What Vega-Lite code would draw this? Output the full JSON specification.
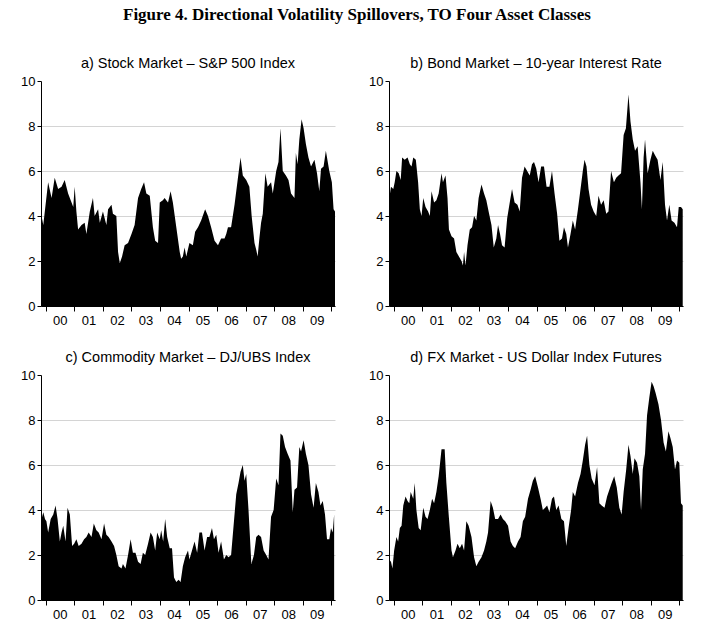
{
"$schema": "https://vega.github.io/schema/vega-lite/v6.json",
"padding": {"left": 20, "top": 5, "right": 5, "bottom": 2},
"background": "white",
"title": {"text": "Figure 4.  Directional Volatility Spillovers, TO Four Asset Classes", "font": "Liberation Serif", "fontSize": 17, "fontWeight": "bold", "color": "black", "anchor": "middle", "offset": 32},
"datasets": {
"a": [{"t":1999.85,"v":4.0},{"t":1999.91,"v":3.6},{"t":2000.08,"v":5.5},{"t":2000.20,"v":4.8},{"t":2000.31,"v":5.7},{"t":2000.43,"v":5.2},{"t":2000.55,"v":5.3},{"t":2000.66,"v":5.6},{"t":2000.78,"v":5.0},{"t":2000.90,"v":4.6},{"t":2000.96,"v":4.4},{"t":2001.01,"v":5.3},{"t":2001.07,"v":4.2},{"t":2001.13,"v":3.4},{"t":2001.25,"v":3.6},{"t":2001.36,"v":3.7},{"t":2001.42,"v":3.2},{"t":2001.54,"v":4.2},{"t":2001.65,"v":4.8},{"t":2001.71,"v":4.0},{"t":2001.83,"v":4.3},{"t":2001.89,"v":3.7},{"t":2002.00,"v":4.2},{"t":2002.12,"v":3.6},{"t":2002.18,"v":4.3},{"t":2002.30,"v":4.5},{"t":2002.35,"v":4.1},{"t":2002.47,"v":4.0},{"t":2002.53,"v":2.4},{"t":2002.59,"v":1.9},{"t":2002.67,"v":2.2},{"t":2002.76,"v":2.7},{"t":2002.88,"v":2.8},{"t":2003.00,"v":3.2},{"t":2003.11,"v":3.6},{"t":2003.23,"v":4.8},{"t":2003.34,"v":5.2},{"t":2003.44,"v":5.5},{"t":2003.52,"v":5.0},{"t":2003.64,"v":4.9},{"t":2003.75,"v":3.5},{"t":2003.83,"v":2.9},{"t":2003.93,"v":2.8},{"t":2003.99,"v":4.6},{"t":2004.10,"v":4.7},{"t":2004.16,"v":4.8},{"t":2004.28,"v":4.6},{"t":2004.37,"v":5.1},{"t":2004.45,"v":4.6},{"t":2004.57,"v":3.5},{"t":2004.69,"v":2.4},{"t":2004.74,"v":2.1},{"t":2004.80,"v":2.2},{"t":2004.86,"v":2.6},{"t":2004.92,"v":2.2},{"t":2005.03,"v":2.8},{"t":2005.15,"v":2.7},{"t":2005.23,"v":3.3},{"t":2005.33,"v":3.5},{"t":2005.44,"v":3.8},{"t":2005.58,"v":4.3},{"t":2005.68,"v":4.0},{"t":2005.79,"v":3.5},{"t":2005.91,"v":2.9},{"t":2006.03,"v":2.7},{"t":2006.14,"v":3.0},{"t":2006.26,"v":3.0},{"t":2006.32,"v":3.2},{"t":2006.38,"v":3.5},{"t":2006.49,"v":3.5},{"t":2006.61,"v":4.5},{"t":2006.72,"v":5.6},{"t":2006.82,"v":6.6},{"t":2006.90,"v":5.8},{"t":2007.02,"v":5.6},{"t":2007.13,"v":5.3},{"t":2007.21,"v":4.0},{"t":2007.31,"v":2.8},{"t":2007.37,"v":2.5},{"t":2007.42,"v":2.2},{"t":2007.48,"v":3.0},{"t":2007.54,"v":3.7},{"t":2007.60,"v":4.1},{"t":2007.69,"v":5.9},{"t":2007.77,"v":5.3},{"t":2007.89,"v":5.5},{"t":2007.95,"v":5.0},{"t":2008.07,"v":6.0},{"t":2008.15,"v":6.4},{"t":2008.22,"v":7.9},{"t":2008.30,"v":6.0},{"t":2008.41,"v":5.8},{"t":2008.50,"v":5.6},{"t":2008.59,"v":5.0},{"t":2008.71,"v":4.8},{"t":2008.76,"v":6.8},{"t":2008.82,"v":6.3},{"t":2008.88,"v":7.4},{"t":2008.96,"v":8.3},{"t":2009.03,"v":7.9},{"t":2009.11,"v":7.2},{"t":2009.20,"v":6.6},{"t":2009.29,"v":6.2},{"t":2009.41,"v":6.5},{"t":2009.50,"v":5.9},{"t":2009.58,"v":5.1},{"t":2009.64,"v":6.1},{"t":2009.73,"v":6.2},{"t":2009.81,"v":6.9},{"t":2009.93,"v":6.0},{"t":2010.02,"v":5.5},{"t":2010.08,"v":4.3},{"t":2010.13,"v":4.2}],
"b": [{"t":1999.83,"v":4.7},{"t":1999.90,"v":5.3},{"t":1999.98,"v":5.2},{"t":2000.03,"v":5.5},{"t":2000.09,"v":6.0},{"t":2000.17,"v":5.9},{"t":2000.24,"v":5.6},{"t":2000.29,"v":6.6},{"t":2000.38,"v":6.5},{"t":2000.48,"v":6.6},{"t":2000.56,"v":6.3},{"t":2000.62,"v":6.2},{"t":2000.68,"v":6.6},{"t":2000.77,"v":6.5},{"t":2000.85,"v":5.5},{"t":2000.91,"v":4.3},{"t":2000.97,"v":4.0},{"t":2001.03,"v":4.8},{"t":2001.11,"v":4.4},{"t":2001.20,"v":4.2},{"t":2001.26,"v":4.0},{"t":2001.32,"v":5.1},{"t":2001.41,"v":4.6},{"t":2001.49,"v":4.7},{"t":2001.57,"v":5.0},{"t":2001.67,"v":5.9},{"t":2001.72,"v":5.5},{"t":2001.81,"v":5.8},{"t":2001.88,"v":4.8},{"t":2001.93,"v":3.4},{"t":2002.02,"v":3.1},{"t":2002.11,"v":3.0},{"t":2002.19,"v":2.4},{"t":2002.28,"v":2.2},{"t":2002.37,"v":2.0},{"t":2002.42,"v":1.8},{"t":2002.46,"v":2.4},{"t":2002.51,"v":1.8},{"t":2002.58,"v":2.7},{"t":2002.66,"v":3.4},{"t":2002.74,"v":3.5},{"t":2002.81,"v":4.0},{"t":2002.89,"v":3.8},{"t":2002.97,"v":4.8},{"t":2003.07,"v":5.4},{"t":2003.16,"v":5.0},{"t":2003.24,"v":4.7},{"t":2003.32,"v":4.2},{"t":2003.42,"v":3.6},{"t":2003.50,"v":2.6},{"t":2003.59,"v":3.0},{"t":2003.65,"v":3.6},{"t":2003.72,"v":3.2},{"t":2003.79,"v":2.7},{"t":2003.88,"v":2.6},{"t":2003.97,"v":3.9},{"t":2004.06,"v":4.6},{"t":2004.14,"v":5.2},{"t":2004.23,"v":4.6},{"t":2004.33,"v":4.5},{"t":2004.41,"v":4.2},{"t":2004.49,"v":5.7},{"t":2004.58,"v":6.2},{"t":2004.67,"v":6.0},{"t":2004.76,"v":5.8},{"t":2004.84,"v":6.3},{"t":2004.91,"v":6.4},{"t":2004.99,"v":6.1},{"t":2005.07,"v":5.5},{"t":2005.16,"v":6.2},{"t":2005.26,"v":6.2},{"t":2005.35,"v":5.3},{"t":2005.45,"v":5.3},{"t":2005.54,"v":6.0},{"t":2005.63,"v":5.0},{"t":2005.72,"v":4.1},{"t":2005.80,"v":2.9},{"t":2005.89,"v":3.0},{"t":2005.96,"v":3.5},{"t":2006.04,"v":3.2},{"t":2006.10,"v":2.6},{"t":2006.19,"v":3.2},{"t":2006.27,"v":3.8},{"t":2006.35,"v":3.4},{"t":2006.45,"v":4.3},{"t":2006.54,"v":5.2},{"t":2006.62,"v":6.0},{"t":2006.68,"v":6.5},{"t":2006.75,"v":6.2},{"t":2006.82,"v":5.2},{"t":2006.91,"v":4.5},{"t":2007.00,"v":4.2},{"t":2007.09,"v":4.0},{"t":2007.17,"v":4.9},{"t":2007.26,"v":4.5},{"t":2007.35,"v":4.7},{"t":2007.44,"v":4.1},{"t":2007.52,"v":4.2},{"t":2007.61,"v":6.0},{"t":2007.71,"v":5.5},{"t":2007.79,"v":5.7},{"t":2007.87,"v":5.8},{"t":2007.96,"v":5.9},{"t":2008.05,"v":7.6},{"t":2008.13,"v":7.9},{"t":2008.22,"v":9.4},{"t":2008.29,"v":8.2},{"t":2008.37,"v":7.4},{"t":2008.45,"v":6.9},{"t":2008.54,"v":7.1},{"t":2008.64,"v":5.5},{"t":2008.69,"v":4.3},{"t":2008.75,"v":6.6},{"t":2008.80,"v":7.4},{"t":2008.89,"v":5.9},{"t":2008.99,"v":6.5},{"t":2009.07,"v":6.9},{"t":2009.15,"v":6.7},{"t":2009.24,"v":6.5},{"t":2009.34,"v":5.6},{"t":2009.42,"v":6.4},{"t":2009.50,"v":4.5},{"t":2009.57,"v":3.8},{"t":2009.65,"v":4.5},{"t":2009.73,"v":3.8},{"t":2009.83,"v":3.7},{"t":2009.92,"v":3.5},{"t":2009.98,"v":4.4},{"t":2010.06,"v":4.4},{"t":2010.12,"v":4.3}],
"c": [{"t":1999.85,"v":3.6},{"t":1999.91,"v":3.9},{"t":1999.97,"v":3.6},{"t":2000.02,"v":3.5},{"t":2000.08,"v":3.0},{"t":2000.17,"v":3.6},{"t":2000.26,"v":3.8},{"t":2000.34,"v":4.2},{"t":2000.41,"v":3.6},{"t":2000.49,"v":2.6},{"t":2000.55,"v":3.0},{"t":2000.61,"v":3.3},{"t":2000.69,"v":2.6},{"t":2000.76,"v":4.1},{"t":2000.84,"v":3.8},{"t":2000.92,"v":2.4},{"t":2000.99,"v":2.5},{"t":2001.07,"v":2.7},{"t":2001.15,"v":2.4},{"t":2001.25,"v":2.5},{"t":2001.34,"v":2.7},{"t":2001.42,"v":2.8},{"t":2001.50,"v":3.0},{"t":2001.60,"v":2.8},{"t":2001.68,"v":3.4},{"t":2001.77,"v":3.1},{"t":2001.85,"v":3.0},{"t":2001.95,"v":2.7},{"t":2002.04,"v":3.4},{"t":2002.12,"v":2.9},{"t":2002.20,"v":2.8},{"t":2002.30,"v":2.6},{"t":2002.39,"v":2.4},{"t":2002.47,"v":2.0},{"t":2002.55,"v":1.5},{"t":2002.65,"v":1.4},{"t":2002.70,"v":1.6},{"t":2002.79,"v":1.4},{"t":2002.88,"v":2.0},{"t":2002.97,"v":2.7},{"t":2003.05,"v":2.1},{"t":2003.14,"v":2.1},{"t":2003.23,"v":1.7},{"t":2003.32,"v":1.6},{"t":2003.40,"v":2.1},{"t":2003.48,"v":2.0},{"t":2003.58,"v":2.5},{"t":2003.67,"v":3.0},{"t":2003.75,"v":2.8},{"t":2003.83,"v":2.2},{"t":2003.90,"v":3.0},{"t":2003.99,"v":2.7},{"t":2004.04,"v":3.1},{"t":2004.11,"v":2.6},{"t":2004.18,"v":3.6},{"t":2004.25,"v":2.8},{"t":2004.34,"v":2.3},{"t":2004.42,"v":2.3},{"t":2004.49,"v":1.0},{"t":2004.57,"v":0.8},{"t":2004.65,"v":0.9},{"t":2004.72,"v":0.8},{"t":2004.80,"v":1.5},{"t":2004.88,"v":1.9},{"t":2004.98,"v":2.2},{"t":2005.03,"v":1.8},{"t":2005.12,"v":2.2},{"t":2005.21,"v":2.6},{"t":2005.30,"v":2.1},{"t":2005.38,"v":3.0},{"t":2005.47,"v":3.0},{"t":2005.56,"v":2.2},{"t":2005.65,"v":2.8},{"t":2005.73,"v":2.8},{"t":2005.82,"v":3.2},{"t":2005.89,"v":2.7},{"t":2005.97,"v":2.9},{"t":2006.05,"v":2.1},{"t":2006.14,"v":2.6},{"t":2006.24,"v":1.8},{"t":2006.32,"v":2.0},{"t":2006.40,"v":1.9},{"t":2006.49,"v":2.0},{"t":2006.59,"v":3.5},{"t":2006.67,"v":4.7},{"t":2006.75,"v":5.2},{"t":2006.82,"v":5.7},{"t":2006.90,"v":6.0},{"t":2006.96,"v":5.3},{"t":2007.02,"v":5.6},{"t":2007.10,"v":4.0},{"t":2007.20,"v":1.6},{"t":2007.29,"v":2.0},{"t":2007.37,"v":2.8},{"t":2007.45,"v":2.9},{"t":2007.54,"v":2.8},{"t":2007.63,"v":2.2},{"t":2007.72,"v":2.0},{"t":2007.80,"v":1.8},{"t":2007.89,"v":3.7},{"t":2007.98,"v":4.0},{"t":2008.07,"v":5.4},{"t":2008.15,"v":5.1},{"t":2008.22,"v":7.4},{"t":2008.30,"v":7.3},{"t":2008.38,"v":6.8},{"t":2008.47,"v":6.5},{"t":2008.57,"v":6.2},{"t":2008.65,"v":3.9},{"t":2008.71,"v":4.9},{"t":2008.80,"v":5.0},{"t":2008.88,"v":6.8},{"t":2008.94,"v":6.6},{"t":2009.03,"v":7.1},{"t":2009.11,"v":6.5},{"t":2009.20,"v":6.0},{"t":2009.29,"v":4.7},{"t":2009.38,"v":4.1},{"t":2009.46,"v":5.2},{"t":2009.55,"v":4.8},{"t":2009.62,"v":4.2},{"t":2009.70,"v":4.4},{"t":2009.78,"v":3.8},{"t":2009.85,"v":2.7},{"t":2009.93,"v":2.7},{"t":2009.99,"v":3.2},{"t":2010.05,"v":3.0},{"t":2010.10,"v":3.8}],
"d": [{"t":1999.83,"v":1.8},{"t":1999.90,"v":1.7},{"t":1999.95,"v":1.4},{"t":2000.01,"v":2.2},{"t":2000.09,"v":2.8},{"t":2000.15,"v":2.6},{"t":2000.21,"v":3.2},{"t":2000.27,"v":3.3},{"t":2000.33,"v":4.2},{"t":2000.41,"v":4.6},{"t":2000.48,"v":4.4},{"t":2000.54,"v":4.3},{"t":2000.59,"v":4.8},{"t":2000.68,"v":4.5},{"t":2000.73,"v":5.2},{"t":2000.79,"v":4.0},{"t":2000.87,"v":3.2},{"t":2000.94,"v":3.1},{"t":2001.03,"v":4.1},{"t":2001.11,"v":3.7},{"t":2001.18,"v":3.6},{"t":2001.26,"v":4.0},{"t":2001.34,"v":4.5},{"t":2001.41,"v":4.3},{"t":2001.49,"v":4.8},{"t":2001.57,"v":5.5},{"t":2001.67,"v":6.7},{"t":2001.72,"v":6.7},{"t":2001.78,"v":6.7},{"t":2001.84,"v":5.2},{"t":2001.92,"v":3.8},{"t":2002.02,"v":2.2},{"t":2002.07,"v":1.9},{"t":2002.16,"v":2.2},{"t":2002.23,"v":2.5},{"t":2002.31,"v":2.3},{"t":2002.39,"v":2.5},{"t":2002.46,"v":2.2},{"t":2002.54,"v":3.5},{"t":2002.62,"v":3.3},{"t":2002.72,"v":2.8},{"t":2002.81,"v":1.9},{"t":2002.89,"v":1.5},{"t":2002.97,"v":1.7},{"t":2003.07,"v":1.9},{"t":2003.16,"v":2.2},{"t":2003.24,"v":2.6},{"t":2003.30,"v":3.0},{"t":2003.39,"v":4.4},{"t":2003.47,"v":4.1},{"t":2003.55,"v":3.6},{"t":2003.65,"v":3.6},{"t":2003.74,"v":3.8},{"t":2003.82,"v":3.6},{"t":2003.90,"v":3.5},{"t":2004.00,"v":3.3},{"t":2004.09,"v":2.6},{"t":2004.17,"v":2.4},{"t":2004.25,"v":2.3},{"t":2004.35,"v":2.6},{"t":2004.44,"v":2.8},{"t":2004.52,"v":3.5},{"t":2004.60,"v":3.7},{"t":2004.70,"v":4.5},{"t":2004.79,"v":4.9},{"t":2004.87,"v":5.3},{"t":2004.95,"v":5.5},{"t":2005.05,"v":5.0},{"t":2005.14,"v":4.5},{"t":2005.22,"v":4.0},{"t":2005.30,"v":4.1},{"t":2005.37,"v":4.2},{"t":2005.45,"v":3.9},{"t":2005.54,"v":4.5},{"t":2005.61,"v":4.6},{"t":2005.69,"v":4.0},{"t":2005.77,"v":4.2},{"t":2005.87,"v":3.6},{"t":2005.96,"v":3.5},{"t":2006.04,"v":2.4},{"t":2006.12,"v":3.2},{"t":2006.21,"v":4.0},{"t":2006.27,"v":4.8},{"t":2006.35,"v":4.6},{"t":2006.45,"v":5.2},{"t":2006.54,"v":5.6},{"t":2006.62,"v":6.2},{"t":2006.70,"v":6.9},{"t":2006.77,"v":7.3},{"t":2006.85,"v":6.0},{"t":2006.93,"v":5.4},{"t":2007.03,"v":5.1},{"t":2007.12,"v":5.9},{"t":2007.20,"v":4.3},{"t":2007.28,"v":4.2},{"t":2007.38,"v":4.1},{"t":2007.47,"v":4.6},{"t":2007.55,"v":4.9},{"t":2007.63,"v":5.2},{"t":2007.72,"v":5.5},{"t":2007.81,"v":5.0},{"t":2007.90,"v":4.1},{"t":2007.98,"v":3.8},{"t":2008.05,"v":4.8},{"t":2008.14,"v":5.8},{"t":2008.22,"v":6.9},{"t":2008.29,"v":6.4},{"t":2008.37,"v":5.6},{"t":2008.43,"v":6.3},{"t":2008.52,"v":6.1},{"t":2008.60,"v":5.5},{"t":2008.66,"v":4.0},{"t":2008.72,"v":5.8},{"t":2008.80,"v":6.5},{"t":2008.87,"v":8.2},{"t":2008.95,"v":9.0},{"t":2009.03,"v":9.7},{"t":2009.10,"v":9.5},{"t":2009.17,"v":9.2},{"t":2009.27,"v":8.7},{"t":2009.36,"v":8.0},{"t":2009.45,"v":7.0},{"t":2009.53,"v":6.6},{"t":2009.62,"v":7.5},{"t":2009.69,"v":7.2},{"t":2009.77,"v":6.8},{"t":2009.85,"v":5.8},{"t":2009.92,"v":6.2},{"t":2010.00,"v":6.1},{"t":2010.06,"v":4.3},{"t":2010.12,"v":4.2}]
},
"vconcat": [
 {"hconcat": [
  {"width": 294, "height": 225, "data": {"name": "a"}, "title": "a) Stock Market – S&P 500 Index",
   "mark": {"type": "area", "color": "black", "interpolate": "linear"},
   "encoding": {
    "x": {"field": "t", "type": "quantitative", "scale": {"domain": [1999.83, 2010.13], "nice": false, "zero": false}, "axis": {"values": [2000,2001,2002,2003,2004,2005,2006,2007,2008,2009,2010], "labelExpr": "datum.value == 2010 ? '' : format(datum.value % 100, '02d')", "labelOffset": 14}},
    "y": {"field": "v", "type": "quantitative", "scale": {"domain": [0, 10], "nice": false}, "axis": {"values": [0,2,4,6,8,10], "grid": true, "gridOpacity": {"condition": {"test": "datum.value == 10", "value": 0}, "value": 1}}}
   }},
  {"width": 294, "height": 225, "data": {"name": "b"}, "title": "b) Bond Market – 10-year Interest Rate",
   "mark": {"type": "area", "color": "black", "interpolate": "linear"},
   "encoding": {
    "x": {"field": "t", "type": "quantitative", "scale": {"domain": [1999.83, 2010.13], "nice": false, "zero": false}, "axis": {"values": [2000,2001,2002,2003,2004,2005,2006,2007,2008,2009,2010], "labelExpr": "datum.value == 2010 ? '' : format(datum.value % 100, '02d')", "labelOffset": 14}},
    "y": {"field": "v", "type": "quantitative", "scale": {"domain": [0, 10], "nice": false}, "axis": {"values": [0,2,4,6,8,10], "grid": true, "gridOpacity": {"condition": {"test": "datum.value == 10", "value": 0}, "value": 1}}}
   }}
 ]},
 {"hconcat": [
  {"width": 294, "height": 225, "data": {"name": "c"}, "title": "c) Commodity Market – DJ/UBS Index",
   "mark": {"type": "area", "color": "black", "interpolate": "linear"},
   "encoding": {
    "x": {"field": "t", "type": "quantitative", "scale": {"domain": [1999.83, 2010.13], "nice": false, "zero": false}, "axis": {"values": [2000,2001,2002,2003,2004,2005,2006,2007,2008,2009,2010], "labelExpr": "datum.value == 2010 ? '' : format(datum.value % 100, '02d')", "labelOffset": 14}},
    "y": {"field": "v", "type": "quantitative", "scale": {"domain": [0, 10], "nice": false}, "axis": {"values": [0,2,4,6,8,10], "grid": true, "gridOpacity": {"condition": {"test": "datum.value == 10", "value": 0}, "value": 1}}}
   }},
  {"width": 294, "height": 225, "data": {"name": "d"}, "title": "d) FX Market - US Dollar Index Futures",
   "mark": {"type": "area", "color": "black", "interpolate": "linear"},
   "encoding": {
    "x": {"field": "t", "type": "quantitative", "scale": {"domain": [1999.83, 2010.13], "nice": false, "zero": false}, "axis": {"values": [2000,2001,2002,2003,2004,2005,2006,2007,2008,2009,2010], "labelExpr": "datum.value == 2010 ? '' : format(datum.value % 100, '02d')", "labelOffset": 14}},
    "y": {"field": "v", "type": "quantitative", "scale": {"domain": [0, 10], "nice": false}, "axis": {"values": [0,2,4,6,8,10], "grid": true, "gridOpacity": {"condition": {"test": "datum.value == 10", "value": 0}, "value": 1}}}
   }}
 ]}
],
"spacing": 22,
"config": {
 "concat": {"spacing": 22},
 "view": {"stroke": null},
 "axis": {"title": null, "labelFont": "Liberation Sans", "labelFontSize": 13, "labelColor": "black", "domainColor": "black", "tickColor": "black", "gridColor": "#d4d4d4", "labelOverlap": false, "labelFlush": false},
 "axisX": {"grid": false, "tickSize": 5, "labelPadding": 3},
 "axisY": {"tickSize": 4, "labelPadding": 2},
 "title": {"font": "Liberation Sans", "fontSize": 14.5, "fontWeight": "normal", "color": "black", "offset": 4}
}
}
